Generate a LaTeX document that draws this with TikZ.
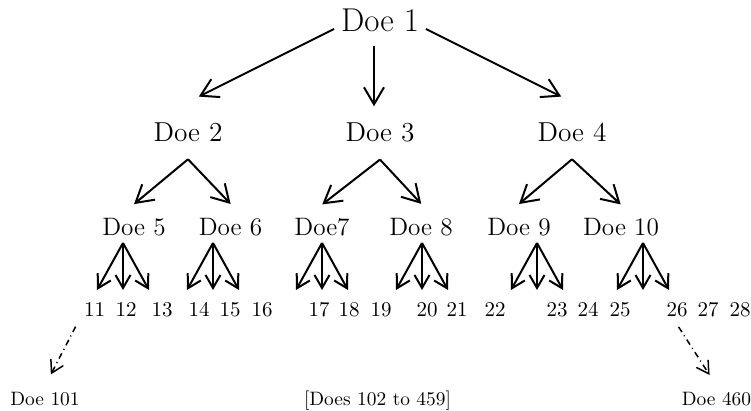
\documentclass[tikz,border=0pt]{standalone}
\usepackage{tikz}
\usetikzlibrary{positioning,arrows.meta}

\begin{document}
\begin{tikzpicture}[
		x=0.5pt,y=-0.5pt,
		inner sep=3pt,
		line width=1pt,
		top/.style={font=\fontsize{16.5}{19}\selectfont,anchor=base},
		mid/.style={font=\fontsize{13.7}{16}\selectfont,anchor=base},
		kid/.style={font=\fontsize{12.6}{15}\selectfont,anchor=base},
		num/.style={font=\fontsize{10.5}{12}\selectfont,anchor=base},
		leaf/.style={font=\fontsize{9.7}{12}\selectfont,anchor=base},
		big/.style={-{Straight Barb[length=8.5pt,width=10pt]}},
		fan/.style={-{Straight Barb[length=6.5pt,width=7.5pt]}},
		more/.style={-{Straight Barb[length=6pt,width=7pt]},line width=0.75pt,dash pattern=on 3pt off 2pt on 0.5pt off 2pt}
	]
	\useasboundingbox (0,0) rectangle (751,411);

	\node [top] (doe1) at (380,32) {Doe 1};
	\node [mid] (doe2) at (188,142) {Doe 2};
	\node [mid] (doe3) at (380,142) {Doe 3};
	\node [mid] (doe4) at (572,142) {Doe 4};
	\node [kid] (doe5) at (134,236) {Doe 5};
	\node [kid] (doe6) at (230.5,236) {Doe 6};
	\node [kid] (doe7) at (322,236) {Doe7};
	\node [kid] (doe8) at (421,236) {Doe 8};
	\node [kid] (doe9) at (519,236) {Doe 9};
	\node [kid] (doe10) at (621,236) {Doe 10};

	\draw [big,shorten >=22pt] (doe1.190) -- (doe2.150);
	\draw [big,shorten <=3.5pt,shorten >=5pt] ([xshift=-3pt]doe1.south) -- ([xshift=-3pt]doe3.north);
	\draw [big,shorten >=22pt] (doe1.-10) -- (doe4.30);

	\draw [big,shorten >=6pt] ([yshift=-5pt]doe2.south) -- ([xshift=-4.6pt]doe5.north);
	\draw [big,shorten >=5.4pt] ([yshift=-5pt]doe2.south) -- ([xshift=3.8pt]doe6.north);
	\draw [big,shorten >=6pt] ([yshift=-5pt]doe3.south) -- ([xshift=-4.6pt]doe7.north);
	\draw [big,shorten >=5.4pt] ([yshift=-5pt]doe3.south) -- ([xshift=3.8pt]doe8.north);
	\draw [big,shorten >=6pt] ([yshift=-5pt]doe4.south) -- ([xshift=-4.6pt]doe9.north);
	\draw [big,shorten >=5.4pt] ([yshift=-5pt]doe4.south) -- ([xshift=3.8pt]doe10.north);

	\foreach \n/\x in {5/123,6/213,7/322,8/422,9/537,10/643} {
		\coordinate (a\n) at (\x,243);
		\foreach \d/\k in {-26/l,0/m,26/r} {
			\coordinate (t\n\k) at (\x+\d,290);
			\draw [fan] (a\n) -- (t\n\k);
		}
	}

	\foreach \n/\x in {11/94.5,12/126,13/162,14/199,15/230,16/262,17/319,18/349,19/381,20/427,21/457,22/495,23/557,24/588,25/620,26/677,27/708,28/740}
		\node [num] (n\n) at (\x,317) {\n};

	\node [leaf] (doe101) at (45,406) {Doe 101};
	\node [leaf] (rest) at (377.5,406) {[Does 102 to 459]};
	\node [leaf] (doe460) at (716.5,406) {Doe 460};

	\draw [more,shorten <=1.5pt,shorten >=6.4pt] (n11.south west) -- (doe101.north);
	\draw [more,shorten <=1.5pt,shorten >=6.4pt] (n26.south) -- (doe460.north);
\end{tikzpicture}
\end{document}
